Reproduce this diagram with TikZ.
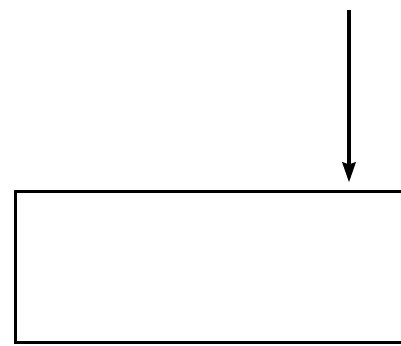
\documentclass[tikz,border=0pt]{standalone}
\usetikzlibrary{arrows.meta}

\begin{document}
\begin{tikzpicture}[x=1pt,y=1pt]

\useasboundingbox (0,0) rectangle (401,345);
\clip (0,0) rectangle (401,345);

\node[draw, line width=3pt, minimum width=410pt, minimum height=151pt, inner sep=0pt, outer sep=0pt] (box) at (220.5,78) {};

\coordinate (top) at (349,335);

\draw[line width=4pt, shorten >=9pt, -{Stealth[length=20pt,width=13pt,inset=2pt]}] (top)--(top |- box.north);

\end{tikzpicture}
\end{document}
